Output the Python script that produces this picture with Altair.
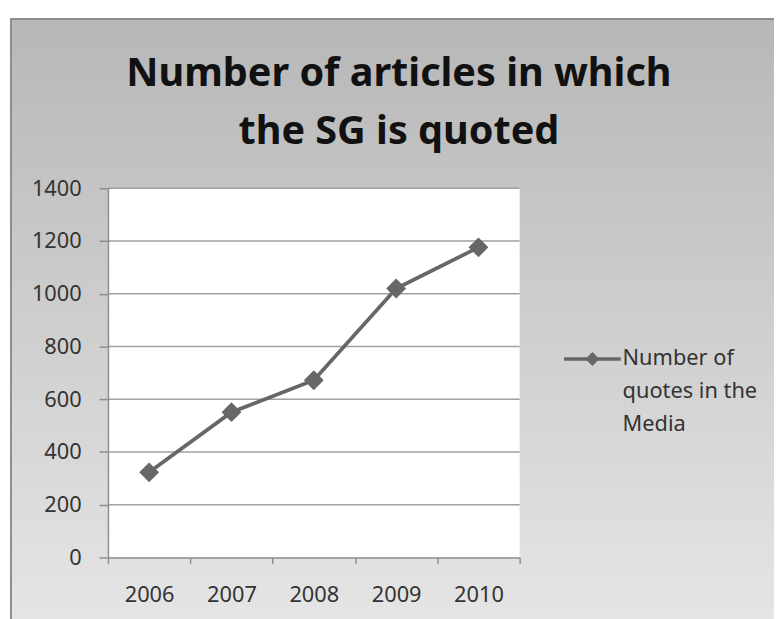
import altair as alt
import pandas as pd

# ---- data ----
years = ["2006", "2007", "2008", "2009", "2010"]
quotes = [323, 551, 672, 1020, 1176]
legend_lines = ["Number of", "quotes in the", "Media"]
series_name = " ".join(legend_lines)
y_ticks = [0, 200, 400, 600, 800, 1000, 1200, 1400]
grid_values = [200, 400, 600, 800, 1000, 1200, 1400]
title_lines = ["Number of articles in which", "the SG is quoted"]

W, H = 416, 373
FONT = "Noto Sans, Open Sans, DejaVu Sans, sans-serif"
GRAY_LINE = "#676767"
AXIS_GRAY = "#8e8e8e"

df = pd.DataFrame({"year": years, "quotes": quotes, "series": [series_name] * len(years)})
grid_df = pd.DataFrame({"v": grid_values})

x_scale = alt.Scale(type="band", paddingInner=0, paddingOuter=0)
y_scale = alt.Scale(domain=[0, 1400], nice=False)

y_axis = alt.Axis(values=y_ticks, format="d", grid=False, labelFont=FONT, labelFontSize=22,
                  labelColor="#333333", domainColor=AXIS_GRAY, domainWidth=1.5,
                  tickColor=AXIS_GRAY, tickWidth=1.5, tickSize=9, labelPadding=18,
                  zindex=1)
x_axis = alt.Axis(labelAngle=0, labelFont=FONT, labelFontSize=22, labelColor="#333333",
                  domainColor=AXIS_GRAY, domainWidth=1.5, tickColor=AXIS_GRAY, tickWidth=1.5,
                  tickSize=6, tickBand="extent", labelPadding=22, zindex=1)

# background panel with vertical gradient
bg = alt.Chart(pd.DataFrame({"a": [0]})).mark_rect(
    color=alt.LinearGradient(
        gradient="linear",
        stops=[alt.GradientStop(color="#b7b7b7", offset=0),
               alt.GradientStop(color="#e6e6e6", offset=1)],
        x1=0, x2=0, y1=0, y2=1),
    stroke=AXIS_GRAY, strokeWidth=2,
).encode(x=alt.value(-98), x2=alt.value(700), y=alt.value(-171), y2=alt.value(450))

plot_bg = alt.Chart(pd.DataFrame({"a": [0]})).mark_rect(color="white").encode(
    x=alt.value(0), x2=alt.value(W), y=alt.value(0), y2=alt.value(H))

grid = alt.Chart(grid_df).mark_rule(color="#a0a0a0", strokeWidth=1.5).encode(
    y=alt.Y("v:Q", scale=y_scale, title=None, axis=y_axis),
    x=alt.value(0), x2=alt.value(W))

x_enc = alt.X("year:O", scale=x_scale, title=None, axis=x_axis)
y_enc = alt.Y("quotes:Q", scale=y_scale, title=None, axis=y_axis)

line = alt.Chart(df).mark_line(strokeWidth=3.8).encode(
    x=x_enc, y=y_enc,
    color=alt.Color("series:N", scale=alt.Scale(range=[GRAY_LINE]),
                    legend=alt.Legend(
                        title=legend_lines, titleOrient="right", titleAnchor="start",
                        titleBaseline="top", titleLineHeight=33, titlePadding=-5,
                        titleFont=FONT, titleFontSize=22, titleFontWeight="normal",
                        titleColor="#333333", titleLimit=300,
                        orient="none", legendX=459, legendY=162, padding=0,
                        labelExpr="''", labelOffset=0,
                        symbolType="M-1,-0.7L1,-0.7M-0.16,-0.7L0,-0.86L0.16,-0.7L0,-0.54Z",
                        symbolSize=3300, symbolStrokeWidth=3.5,
                        symbolStrokeColor=GRAY_LINE, symbolFillColor=GRAY_LINE)))

points = alt.Chart(df).mark_point(shape="diamond", filled=True, size=400, opacity=1,
                                  color=GRAY_LINE).encode(x=x_enc, y=y_enc)

chart = alt.layer(bg, plot_bg, grid, line, points).properties(
    width=W, height=H,
    title=alt.TitleParams(text=title_lines, anchor="middle", frame="group", dx=86, offset=-135,
                          font=FONT, fontSize=40, fontWeight="bold", color="#111111",
                          lineHeight=58),
    autosize=alt.AutoSizeParams(type="none"),
    padding={"left": 101, "top": 179, "right": 257, "bottom": 59},
).configure_view(stroke=None).configure(background="white")

chart.save("out.html", embed_options={"renderer": "svg", "actions": False})
